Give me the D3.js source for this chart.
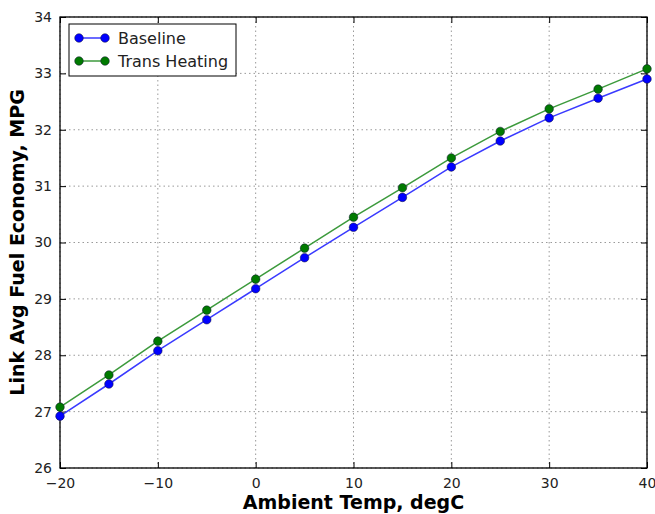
<!DOCTYPE html>
<html lang="en">
<head>
    <meta charset="UTF-8">
    <title>Link Avg Fuel Economy vs Ambient Temp</title>
    <style>
        body { margin: 0; background: #fff; }
        svg { display: block; font-family: "DejaVu Sans", sans-serif; }
        .grid line { stroke: #9a9a9a; stroke-dasharray: 1.5, 3; }
    </style>
</head>
<body>
    <svg id="chart" width="655" height="514"></svg>
    <script src="https://d3js.org/d3.v7.min.js"></script>
    <script>
        // Values
        const temps = [-20, -15, -10, -5, 0, 5, 10, 15, 20, 25, 30, 35, 40];
        const baseline = [26.92, 27.49, 28.08, 28.63, 29.18, 29.73, 30.27, 30.80, 31.34, 31.80, 32.21, 32.56, 32.90];
        const transHeating = [27.08, 27.65, 28.25, 28.80, 29.35, 29.90, 30.45, 30.97, 31.50, 31.97, 32.37, 32.72, 33.08];
        const xTicks = [-20, -10, 0, 10, 20, 30, 40];
        const yTicks = [26, 27, 28, 29, 30, 31, 32, 33, 34];

        const series = [
            { name: "Baseline", values: baseline, line: "#3a3aff", fill: "#0000ff" },
            { name: "Trans Heating", values: transHeating, line: "#3c9a3c", fill: "#007a00" }
        ];

        const svg = d3.select("#chart");
        const margin = { top: 17, right: 8, bottom: 46, left: 60 };
        const width = 655 - margin.left - margin.right;
        const height = 514 - margin.top - margin.bottom;

        const x = d3.scaleLinear().domain([-20, 40]).range([0, width]);
        const y = d3.scaleLinear().domain([26, 34]).range([height, 0]);

        const g = svg.append("g").attr("transform", `translate(${margin.left},${margin.top})`);

        // grid
        g.append("g").attr("class", "grid")
            .selectAll("line").data(xTicks).enter().append("line")
            .attr("x1", d => x(d)).attr("x2", d => x(d))
            .attr("y1", 0).attr("y2", height);
        g.append("g").attr("class", "grid")
            .selectAll("line").data(yTicks).enter().append("line")
            .attr("x1", 0).attr("x2", width)
            .attr("y1", d => y(d)).attr("y2", d => y(d));

        // axes with inward ticks
        const fmt = d => d < 0 ? "\u2212" + Math.abs(d) : d;
        const xAxis = g.append("g").attr("transform", `translate(0,${height})`)
            .call(d3.axisBottom(x).tickValues(xTicks).tickSizeInner(-6).tickSizeOuter(0).tickPadding(10).tickFormat(fmt));
        const yAxis = g.append("g")
            .call(d3.axisLeft(y).tickValues(yTicks).tickSizeInner(-6).tickSizeOuter(0).tickPadding(8));
        g.append("g")
            .call(d3.axisTop(x).tickValues(xTicks).tickSizeInner(-6).tickSizeOuter(0).tickFormat(""));
        g.append("g").attr("transform", `translate(${width},0)`)
            .call(d3.axisRight(y).tickValues(yTicks).tickSizeInner(-6).tickSizeOuter(0).tickFormat(""));

        g.selectAll(".domain").remove();
        g.selectAll(".tick line").attr("stroke", "#000");
        [xAxis, yAxis].forEach(a => a.selectAll("text")
            .style("font-family", "DejaVu Sans").style("font-size", "14px").attr("fill", "#222"));

        // frame
        g.append("rect").attr("width", width).attr("height", height)
            .attr("fill", "none").attr("stroke", "#000").attr("stroke-width", 1.3);

        // lines and markers
        const line = d3.line().x((d, i) => x(temps[i])).y(d => y(d));
        series.forEach(s => {
            g.append("path").datum(s.values)
                .attr("d", line).attr("fill", "none")
                .attr("stroke", s.line).attr("stroke-width", 1.5);
            g.selectAll(null).data(s.values).enter().append("circle")
                .attr("cx", (d, i) => x(temps[i])).attr("cy", d => y(d))
                .attr("r", 4.3).attr("fill", s.fill)
                .attr("stroke", "#113").attr("stroke-width", 0.5);
        });

        // legend
        const legend = g.append("g").attr("transform", "translate(9,7)");
        legend.append("rect").attr("width", 167).attr("height", 52)
            .attr("fill", "#fff").attr("stroke", "#000").attr("stroke-width", 1);
        series.forEach((s, i) => {
            const ly = 14 + i * 23;
            legend.append("line").attr("x1", 10).attr("x2", 36).attr("y1", ly).attr("y2", ly)
                .attr("stroke", s.line).attr("stroke-width", 1.5);
            [10, 36].forEach(cx => legend.append("circle").attr("cx", cx).attr("cy", ly)
                .attr("r", 4.3).attr("fill", s.fill).attr("stroke", "#113").attr("stroke-width", 0.5));
            legend.append("text").attr("x", 49).attr("y", ly + 5.5)
                .style("font-size", "16px").attr("fill", "#222").text(s.name);
        });

        // axis titles
        svg.append("text")
            .attr("x", margin.left + width / 2).attr("y", 509)
            .attr("text-anchor", "middle")
            .style("font-size", "19px").style("font-weight", "bold")
            .text("Ambient Temp, degC");
        svg.append("text")
            .attr("transform", `translate(24,${margin.top + height / 2}) rotate(-90)`)
            .attr("text-anchor", "middle")
            .style("font-size", "19px").style("font-weight", "bold")
            .text("Link Avg Fuel Economy, MPG");
    </script>
</body>
</html>
